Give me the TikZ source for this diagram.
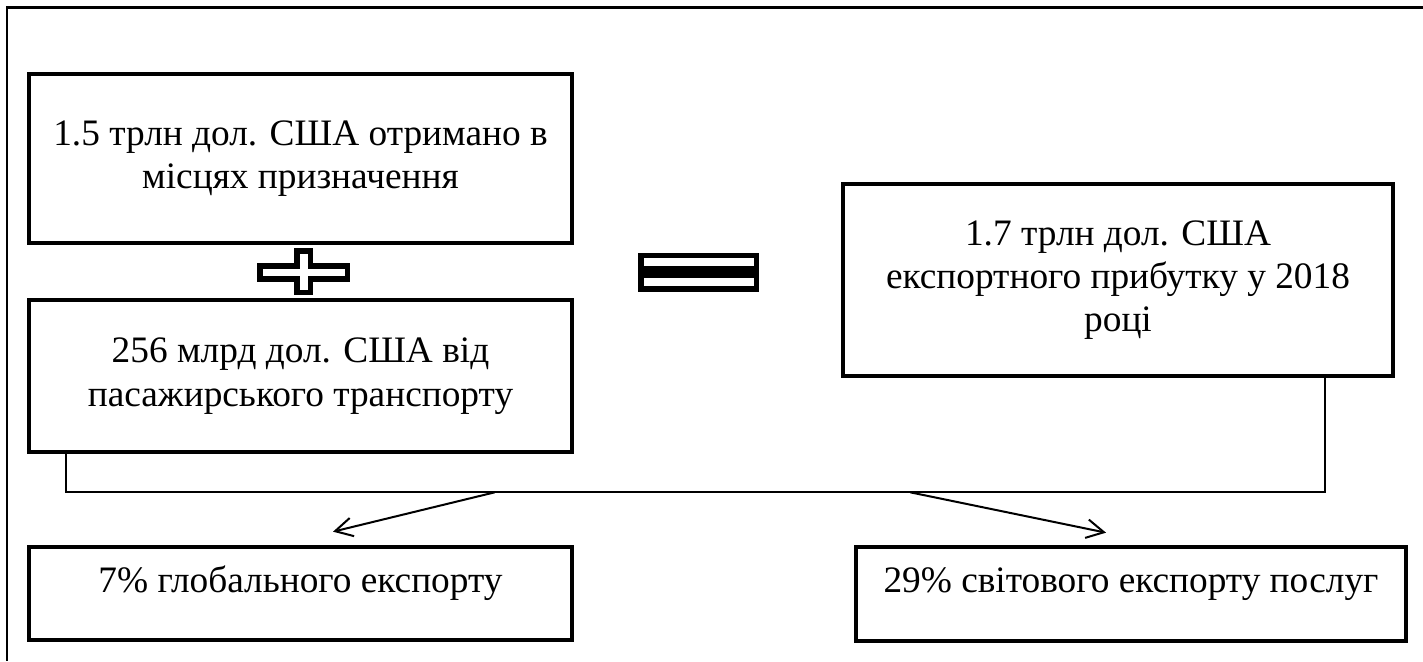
\documentclass[tikz,border=0pt]{standalone}
\usepackage{fontspec}
\setmainfont{Liberation Serif}
\usepackage{tikz}
\usetikzlibrary{calc, arrows.meta}

\begin{document}
\begin{tikzpicture}[x=0.75pt, y=-0.75pt,
		box/.style = {draw, line width=3.5pt, align=center, font=\fontsize{28}{32.5}\selectfont},
		oneline/.style = {text height=0pt, text depth=2pt},
		wire/.style = {line width=1.3pt},
		arr/.style = {line width=1.5pt, -{Straight Barb[length=13pt, width=14pt]}},
		sign/.style = {line width=4pt, line join=miter}]
		\def\px{0.75pt};
		
		\useasboundingbox (0,0) rectangle (1423,661);
		\draw [line width=2pt] (1423,7.5) -- (7,7.5) -- (7,661);
		
		% the two sums on the left
		\node [box, minimum width={543*\px}, minimum height={169*\px}] (dest) at (300.5,158.5) {1.5 трлн дол. США отримано в\\місцях призначення};
		\node [box, minimum width={543*\px}, minimum height={152*\px}] (pax) at (300.5,376) {256 млрд дол. США від\\пасажирського транспорту};
		
		% result
		\node [box, minimum width={550*\px}, minimum height={192*\px}] (total) at (1118,280) {1.7 трлн дол. США\\експортного прибутку у 2018\\році};
		
		% shares
		\node [box, oneline, minimum width={543*\px}, minimum height={93*\px}] (glob) at (300.5,593.5) {7\% глобального експорту};
		\node [box, oneline, minimum width={550*\px}, minimum height={94*\px}] (serv) at (1131,594) {29\% світового експорту послуг};
		
		% plus sign
		\draw [sign] (260,266) -- (297,266) -- (297,251) -- (310.6,251) -- (310.6,266) -- (347.3,266) -- (347.3,279) -- (310.6,279) -- (310.6,292.3) -- (297,292.3) -- (297,279) -- (260,279) -- cycle;
		
		% equals sign
		\draw [sign, line width=4.2pt] (641.2,255.3) rectangle (756.3,268.7);
		\draw [sign, line width=4.2pt] (641.2,275) rectangle (756.3,288.7);
		
		% bracket and arrows
		\coordinate (busL) at ($(pax.south west)+(39,38)$);
		\coordinate (busR) at ($(total.south east)+(-70,114)$);
		\draw [wire] (pax.south west -| busL) -- (busL) -- (busR) -- (total.south -| busR);
		
		\coordinate (forkL) at ($(busL)+(429,0)$);
		\coordinate (forkR) at ($(busR)+(-415,0)$);
		\draw [arr] (forkL) -- ($(glob.north)+(32.5,-13)$);
		\draw [arr] (forkR) -- ($(serv.north)+(-25,-12)$);
	\end{tikzpicture}
\end{document}
